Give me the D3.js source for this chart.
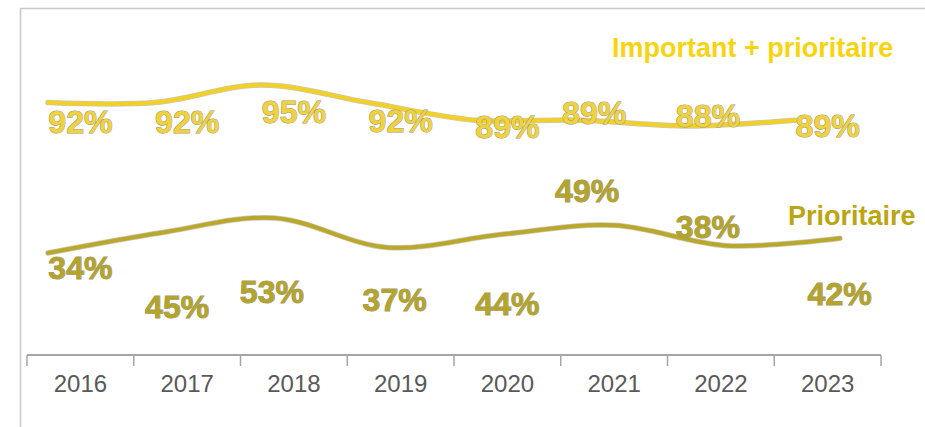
<!DOCTYPE html>
<html>
<head>
<meta charset="utf-8">
<script src="https://cdn.jsdelivr.net/npm/d3@7/dist/d3.min.js"></script>
<style>
  html, body { margin: 0; padding: 0; background: #fff; }
  svg { display: block; font-family: "Liberation Sans", Arial, sans-serif; }
</style>
</head>
<body>
<svg id="chart" width="925" height="427"></svg>
<script>
// ---------- DATA ----------
const years = ["2016", "2017", "2018", "2019", "2020", "2021", "2022", "2023"];
const importantPrioritaire = [92, 92, 95, 92, 89, 89, 88, 89];
const prioritaire = [34, 45, 53, 37, 44, 49, 38, 42];
const seriesNames = ["Important + prioritaire", "Prioritaire"];

// ---------- LAYOUT ----------
const W = 925, H = 427;
const axisY = 355, axisX0 = 27, axisX1 = 881;
const colImp = "#F2D024", colImpLbl = "#EFD23E";
const colPri = "#B9A82A", colPriLbl = "#B4A42A";
const lblStroke = "#9C9678";
// label nudges relative to each computed point (the reference places labels freely)
const impNudge = [[0, 30], [0, 30], [0, 38], [0, 29], [0, 18], [-20, 4], [-13, 1], [0, 17]];
const priNudge = [[0, 26], [-10, 85], [-22, 85], [-6, 64], [0, 80], [-27, -23], [-13, -8], [12, 67]];

const svg = d3.select("#chart");

// frame
svg.append("path")
  .attr("d", `M20.5,${H} L20.5,8.5 L${W},8.5`)
  .attr("fill", "none").attr("stroke", "#c8c8c8").attr("stroke-width", 1.5);

// x band scale for categories
const x = d3.scaleBand().domain(years).range([axisX0, axisX1]).paddingInner(0).paddingOuter(0);

// line x scales (reference lines are drawn offset from the categories)
const xImp = d3.scalePoint().domain(years).range([48, 795]);
const xPri = d3.scalePoint().domain(years).range([48, 840]);

// y scales (one per series, no visible axis)
const yImp = d3.scaleLinear().domain([88, 95]).range([126, 85]);
const yPri = d3.scaleLinear().domain([34, 53]).range([253, 218]);

// axis
const axis = d3.axisBottom(x).tickSize(0).tickPadding(0);
const gAxis = svg.append("g").attr("transform", `translate(0,${axisY})`);
gAxis.call(axis);
gAxis.select(".domain").remove();
gAxis.selectAll(".tick line").remove();
gAxis.append("line").attr("x1", axisX0).attr("x2", axisX1).attr("y1", 0).attr("y2", 0)
  .attr("stroke", "#a6a6a6").attr("stroke-width", 2);
const edges = years.map(d => x(d)).concat([x(years[years.length - 1]) + x.bandwidth()]);
gAxis.selectAll(".edge").data(edges).enter().append("line")
  .attr("class", "edge")
  .attr("x1", d => d).attr("x2", d => d).attr("y1", 0).attr("y2", 11)
  .attr("stroke", "#a6a6a6").attr("stroke-width", 1.5);
gAxis.selectAll(".tick text")
  .attr("y", 37)
  .attr("font-size", 24)
  .attr("font-family", "'Liberation Sans', Arial, sans-serif")
  .attr("fill", "#595959")
  .attr("dy", 0);

const curve = d3.curveCatmullRom.alpha(0.5);

function drawSeries(values, xs, ys, col, lblCol, nudge) {
  const pts = values.map((v, i) => ({ year: years[i], v, i }));
  const line = d3.line().x(d => xs(d.year)).y(d => ys(d.v)).curve(curve);
  // soft grey outline under the line
  svg.append("path").datum(pts).attr("d", line)
    .attr("fill", "none").attr("stroke", "#9e9a86").attr("stroke-opacity", 0.55)
    .attr("stroke-width", 5.5).attr("stroke-linecap", "round");
  svg.append("path").datum(pts).attr("d", line)
    .attr("fill", "none").attr("stroke", col)
    .attr("stroke-width", 4).attr("stroke-linecap", "round");
  svg.append("g").selectAll("text").data(pts).enter().append("text")
    .attr("x", d => x(d.year) + x.bandwidth() / 2 + nudge[d.i][0])
    .attr("y", d => ys(d.v) + nudge[d.i][1])
    .attr("text-anchor", "middle")
    .attr("font-size", 32)
    .attr("font-weight", "bold")
    .attr("fill", lblCol)
    .attr("stroke", lblStroke)
    .attr("stroke-width", 1)
    .attr("paint-order", "stroke")
    .text(d => d.v + "%");
}

drawSeries(importantPrioritaire, xImp, yImp, colImp, colImpLbl, impNudge);
drawSeries(prioritaire, xPri, yPri, colPri, colPriLbl, priNudge);

// series name labels
svg.append("text").attr("x", 612).attr("y", 57)
  .attr("font-size", 27).attr("font-weight", "bold").attr("fill", "#F7D40F")
  .text(seriesNames[0]);
svg.append("text").attr("x", 788).attr("y", 225)
  .attr("font-size", 27).attr("font-weight", "bold").attr("fill", "#BBA512")
  .text(seriesNames[1]);
</script>
</body>
</html>
